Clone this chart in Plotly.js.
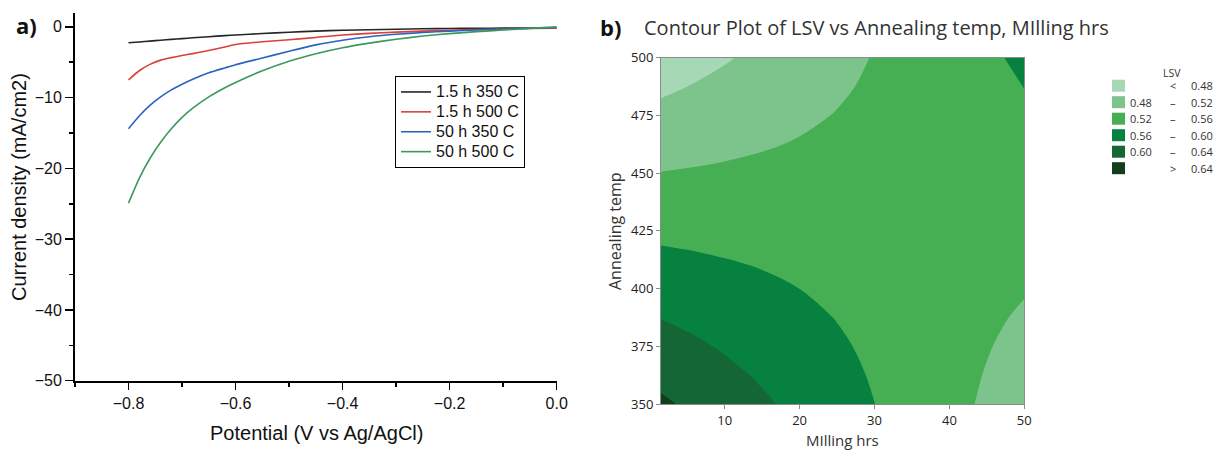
<!DOCTYPE html>
<html>
<head>
<meta charset="utf-8">
<script src="https://cdn.plot.ly/plotly-3.0.1.min.js"></script>
<style>html,body{margin:0;padding:0;background:#fff;}#chart{width:1217px;height:452px;}</style>
</head>
<body>
<div id="chart"></div>
<script>
// ---------- Panel a) LSV curves ----------
const potential = [-0.8, -0.78, -0.76, -0.74, -0.72, -0.7, -0.68, -0.65, -0.62, -0.6, -0.55, -0.5, -0.45, -0.4, -0.35, -0.3, -0.25, -0.2, -0.15, -0.1, -0.05, 0];
const seriesNames = ["1.5 h 350 C", "1.5 h 500 C", "50 h 350 C", "50 h 500 C"];
const j_15h_350 = [-2.25, -2.13, -2.01, -1.89, -1.77, -1.66, -1.55, -1.39, -1.24, -1.15, -0.94, -0.76, -0.6, -0.48, -0.4, -0.33, -0.27, -0.23, -0.2, -0.18, -0.16, -0.15];
const j_15h_500 = [-7.5, -6.2, -5.3, -4.7, -4.35, -4.05, -3.78, -3.35, -2.85, -2.5, -2.1, -1.82, -1.5, -1.15, -0.92, -0.75, -0.6, -0.47, -0.37, -0.3, -0.24, -0.2];
const j_50h_350 = [-14.4, -12.6, -11.1, -9.9, -8.9, -8.1, -7.4, -6.5, -5.8, -5.35, -4.4, -3.45, -2.55, -1.9, -1.4, -1.05, -0.8, -0.6, -0.45, -0.33, -0.2, -0.1];
const j_50h_500 = [-24.9, -21.4, -18.6, -16.3, -14.4, -12.8, -11.5, -9.9, -8.6, -7.85, -6.2, -4.85, -3.8, -2.95, -2.3, -1.75, -1.3, -0.95, -0.68, -0.45, -0.22, 0];

// ---------- Panel b) contour of LSV ----------
const millingHrs = [1.5, 5, 10, 15, 20, 25, 30, 35, 40, 45, 50];
const annealTemp = [350, 362.5, 375, 387.5, 400, 412.5, 425, 437.5, 450, 462.5, 475, 487.5, 500];
// rows follow annealTemp, columns follow millingHrs
const lsv = [
  [0.6460, 0.6355, 0.6204, 0.6054, 0.5903, 0.5753, 0.5602, 0.5452, 0.5301, 0.5151, 0.5000],
  [0.6303, 0.6213, 0.6085, 0.5956, 0.5827, 0.5698, 0.5570, 0.5441, 0.5312, 0.5184, 0.5055],
  [0.6147, 0.6072, 0.5965, 0.5858, 0.5751, 0.5644, 0.5538, 0.5431, 0.5324, 0.5217, 0.5110],
  [0.5990, 0.5930, 0.5845, 0.5760, 0.5675, 0.5590, 0.5505, 0.5420, 0.5335, 0.5250, 0.5165],
  [0.5833, 0.5789, 0.5726, 0.5663, 0.5599, 0.5536, 0.5473, 0.5410, 0.5346, 0.5283, 0.5220],
  [0.5677, 0.5648, 0.5606, 0.5565, 0.5524, 0.5482, 0.5441, 0.5399, 0.5358, 0.5316, 0.5275],
  [0.5520, 0.5506, 0.5487, 0.5467, 0.5448, 0.5428, 0.5408, 0.5389, 0.5369, 0.5350, 0.5330],
  [0.5363, 0.5365, 0.5367, 0.5369, 0.5372, 0.5374, 0.5376, 0.5378, 0.5381, 0.5383, 0.5385],
  [0.5207, 0.5224, 0.5248, 0.5272, 0.5296, 0.5320, 0.5344, 0.5368, 0.5392, 0.5416, 0.5440],
  [0.5050, 0.5082, 0.5128, 0.5174, 0.5220, 0.5266, 0.5312, 0.5357, 0.5403, 0.5449, 0.5495],
  [0.4893, 0.4941, 0.5008, 0.5076, 0.5144, 0.5212, 0.5279, 0.5347, 0.5415, 0.5482, 0.5550],
  [0.4737, 0.4799, 0.4889, 0.4978, 0.5068, 0.5157, 0.5247, 0.5336, 0.5426, 0.5516, 0.5605],
  [0.4580, 0.4658, 0.4769, 0.4881, 0.4992, 0.5103, 0.5215, 0.5326, 0.5437, 0.5549, 0.5660]
];
const lsvLevels = [0.48, 0.52, 0.56, 0.60, 0.64];
const bandColors = ["#a7d8b6", "#7dc48c", "#46ae53", "#078140", "#146734", "#113e1d"];
const bandLow = ["", "0.48", "0.52", "0.56", "0.60", ""];
const bandSep = ["<", "–", "–", "–", "–", ">"];
const bandHigh = ["0.48", "0.52", "0.56", "0.60", "0.64", "0.64"];

const W = 1217, H = 452;
const px = x => x / W;
const py = y => 1 - y / H;

const lineColors = ["#262626", "#d9413a", "#2a64c0", "#3a9a5c"];
const curves = [j_15h_350, j_15h_500, j_50h_350, j_50h_500];
const traces = curves.map((ys, i) => ({
  type: "scatter", mode: "lines", x: potential, y: ys,
  name: '<span style="font-size:16px">' + seriesNames[i] + '</span>',
  line: {color: lineColors[i], width: 1.6, shape: "spline", smoothing: 0.6},
  xaxis: "x", yaxis: "y", hoverinfo: "skip"
}));

// discrete stepped colorscale, one step per band
const cscale = [];
bandColors.forEach((c, i) => {
  const lo = i === 0 ? 0 : (i - 0.5) / (bandColors.length - 1);
  const hi = i === bandColors.length - 1 ? 1 : (i + 0.5) / (bandColors.length - 1);
  cscale.push([lo, c]); cscale.push([hi, c]);
});

traces.push({
  type: "contour", x: millingHrs, y: annealTemp, z: lsv,
  xaxis: "x2", yaxis: "y2", showscale: false, showlegend: false, hoverinfo: "skip",
  colorscale: cscale,
  contours: {start: lsvLevels[0], end: lsvLevels[lsvLevels.length - 1], size: 0.04, coloring: "fill", showlines: false},
  line: {width: 0, smoothing: 1}
});

const fa = "Liberation Sans, Arial, sans-serif";
const fb = "Open Sans, Noto Sans, sans-serif";

function ann(o) { return Object.assign({xref: "paper", yref: "paper", showarrow: false, xanchor: "center", yanchor: "middle"}, o); }

const annotations = [
  ann({text: "<b>a)</b>", x: px(14), y: py(25), xanchor: "left", font: {family: fb, size: 22, color: "#111"}}),
  ann({text: "<b>b)</b>", x: px(598), y: py(27), xanchor: "left", font: {family: fb, size: 22, color: "#111"}}),
  ann({text: "Contour Plot of LSV vs Annealing temp, MIlling hrs", x: px(642), y: py(28), xanchor: "left", font: {family: fb, size: 20, color: "#333"}}),
  ann({text: "Current density (mA/cm2)", x: px(19), y: py(187), textangle: -90, font: {family: fa, size: 20, color: "#111"}}),
  ann({text: "Potential (V vs Ag/AgCl)", x: px(316), y: py(433), font: {family: fa, size: 20, color: "#111"}}),
  ann({text: "Annealing temp", x: px(615), y: py(231), textangle: -90, font: {family: fb, size: 16, color: "#333"}}),
  ann({text: "MIlling hrs", x: px(842), y: py(440), font: {family: fb, size: 15, color: "#333"}}),
  ann({text: "LSV", x: px(1172), y: py(73), font: {family: fb, size: 10.5, color: "#333"}})
];
const shapes = [];
bandColors.forEach((c, i) => {
  const yc = 85.7 + i * 16.5;
  shapes.push({type: "rect", xref: "paper", yref: "paper", x0: px(1112), x1: px(1125), y0: py(yc + 6), y1: py(yc - 6), fillcolor: c, line: {width: 0}});
  const f = {family: fb, size: 11, color: "#333"};
  if (bandLow[i]) annotations.push(ann({text: bandLow[i], x: px(1154), y: py(yc), xanchor: "right", font: f}));
  annotations.push(ann({text: bandSep[i], x: px(1173), y: py(yc), font: f}));
  annotations.push(ann({text: bandHigh[i], x: px(1189), y: py(yc), xanchor: "left", font: f}));
});

const layout = {
  width: W, height: H, margin: {l: 0, r: 0, t: 0, b: 0},
  paper_bgcolor: "#fff", plot_bgcolor: "#fff", showlegend: true,
  xaxis: {
    domain: [px(75), px(556.7)], range: [-0.9, 0], anchor: "y",
    showgrid: false, zeroline: false, showline: true, linecolor: "#000", linewidth: 2,
    ticks: "outside", ticklen: 7, tickwidth: 1.5, tickcolor: "#000", tick0: 0, dtick: 0.2, tickformat: ".1f",
    minor: {ticks: "outside", dtick: 0.1, tick0: 0, ticklen: 4, tickwidth: 1.5, tickcolor: "#000"},
    tickfont: {family: fa, size: 16, color: "#111"}
  },
  yaxis: {
    domain: [py(380.7), py(12.7)], range: [-50, 2], anchor: "x",
    showgrid: false, zeroline: false, showline: true, linecolor: "#000", linewidth: 2,
    ticks: "outside", ticklen: 8, tickwidth: 1.5, tickcolor: "#000", tick0: 0, dtick: 10,
    minor: {ticks: "outside", dtick: 5, tick0: 0, ticklen: 4, tickwidth: 1.5, tickcolor: "#000"},
    tickfont: {family: fa, size: 16, color: "#111"}
  },
  xaxis2: {
    domain: [px(661), px(1024.3)], range: [1.5, 50], anchor: "y2",
    showgrid: false, zeroline: false, showline: true, mirror: true, linecolor: "#8c8c8c", linewidth: 1,
    ticks: "outside", ticklen: 4, tickcolor: "#8c8c8c", tickvals: [10, 20, 30, 40, 50],
    tickfont: {family: fb, size: 13, color: "#222"}
  },
  yaxis2: {
    domain: [py(404), py(57.5)], range: [350, 500], anchor: "x2",
    showgrid: false, zeroline: false, showline: true, mirror: true, linecolor: "#8c8c8c", linewidth: 1,
    ticks: "outside", ticklen: 4, tickcolor: "#8c8c8c", tickvals: [350, 375, 400, 425, 450, 475, 500],
    tickfont: {family: fb, size: 13, color: "#222"}
  },
  legend: {
    x: px(395), y: py(76), xanchor: "left", yanchor: "top",
    bordercolor: "#000", borderwidth: 1, bgcolor: "#fff",
    font: {family: fa, size: 13, color: "#111"}, tracegroupgap: 0, itemwidth: 30
  },
  annotations: annotations, shapes: shapes
};

Plotly.newPlot("chart", traces, layout, {staticPlot: true, displayModeBar: false});
</script>
</body>
</html>
